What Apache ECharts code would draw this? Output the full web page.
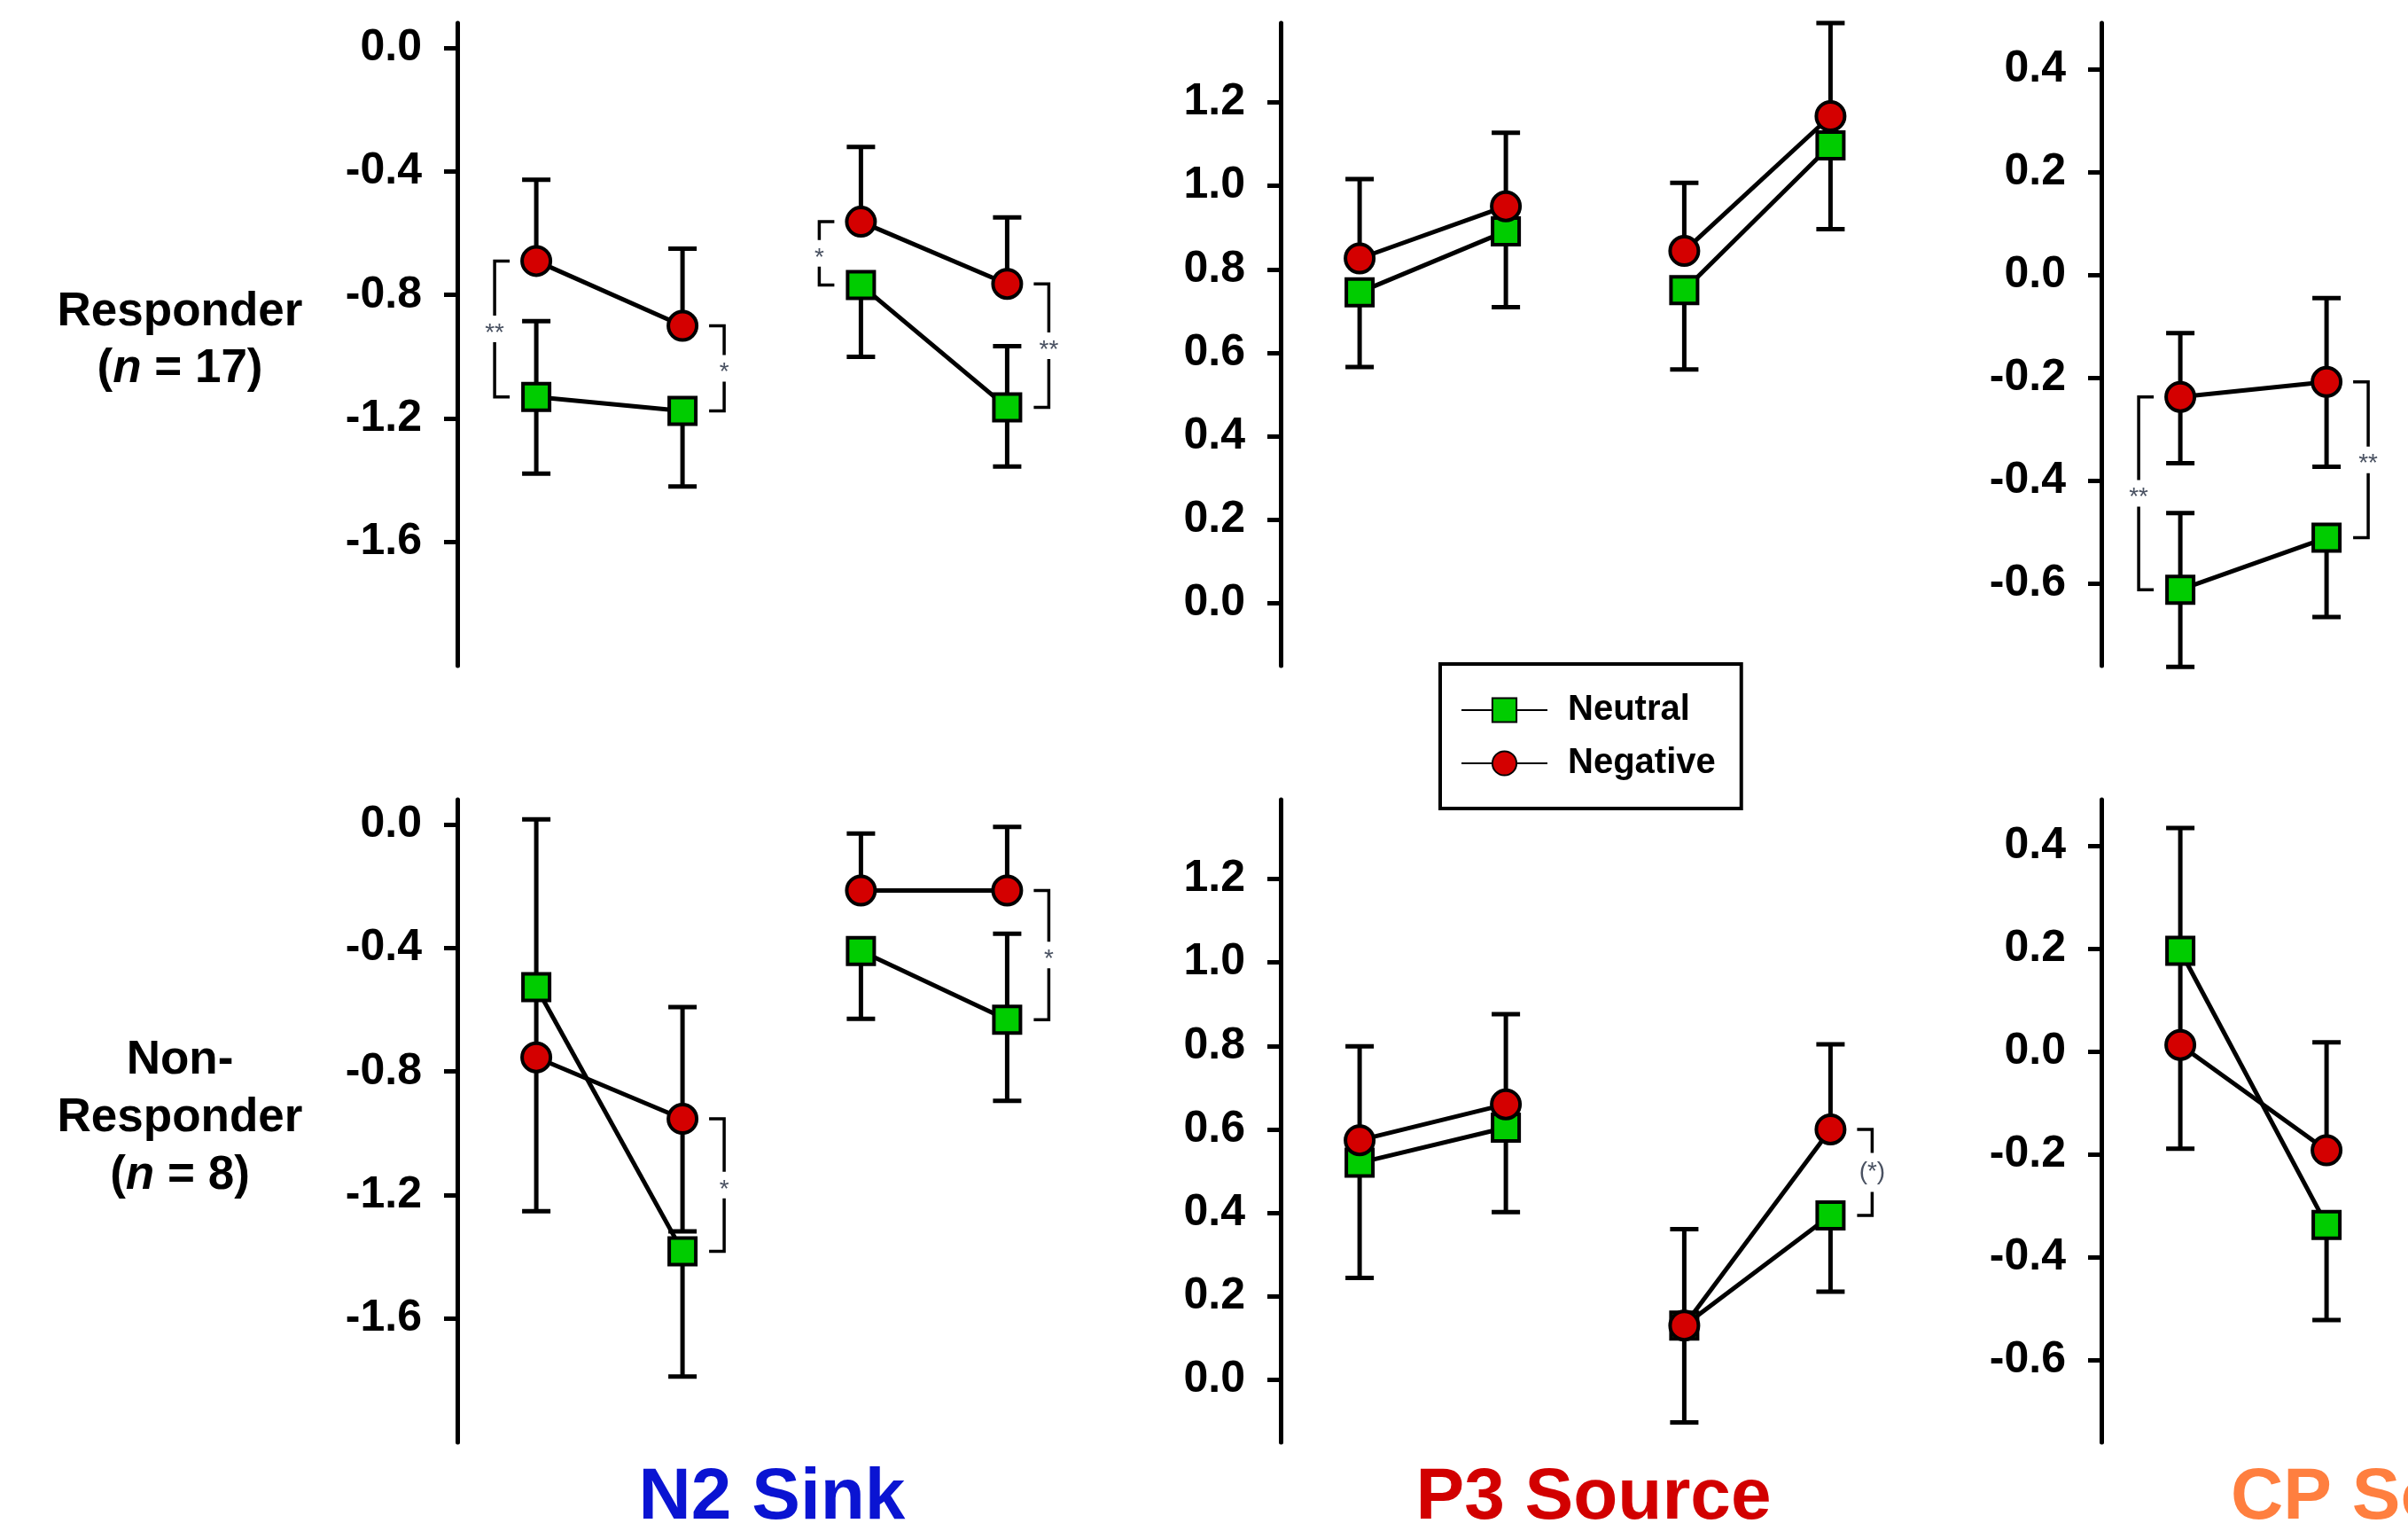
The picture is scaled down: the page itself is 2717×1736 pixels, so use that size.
<!DOCTYPE html>
<html>
<head>
<meta charset="utf-8">
<script src="https://cdn.jsdelivr.net/npm/echarts@6.0.0/dist/echarts.min.js"></script>
<style>
  html, body { margin: 0; padding: 0; background: #fff; }
  #chart { width: 2717px; height: 1736px; }
</style>
</head>
<body>
<div id="chart"></div>
<script>
// x position of the four conditions (two pairs) inside each panel
const xPos = [1, 2, 3.22, 4.22];

// each point: [mean, lower end of error bar, upper end of error bar]; null = that end not drawn
const n2RespNeutral  = [[-1.13, -1.378, -0.885], [-1.175, -1.42, null], [-0.768, -1.0, null], [-1.164, -1.355, -0.966]];
const n2RespNegative = [[-0.69, null, -0.427], [-0.90, null, -0.65], [-0.563, null, -0.321], [-0.764, null, -0.549]];
const n2NonNeutral   = [[-0.527, null, 0.016], [-1.382, -1.787, null], [-0.41, -0.629, null], [-0.632, -0.895, -0.354]];
const n2NonNegative  = [[-0.754, -1.252, -0.53], [-0.953, -1.317, -0.591], [-0.214, null, -0.03], [-0.214, null, -0.008]];

const p3RespNeutral  = [[0.745, 0.566, null], [0.891, 0.709, null], [0.75, 0.56, null], [1.097, 0.896, null]];
const p3RespNegative = [[0.826, null, 1.016], [0.951, null, 1.127], [0.844, null, 1.007], [1.167, null, 1.39]];
const p3NonNeutral   = [[0.52, 0.244, null], [0.604, 0.402, null], [0.13, -0.102, null], [0.394, 0.211, null]];
const p3NonNegative  = [[0.574, null, 0.799], [0.66, null, 0.876], [0.13, null, 0.361], [0.60, null, 0.804]];

const cpRespNeutral  = [[-0.612, -0.762, -0.463], [-0.511, -0.665, null]];
const cpRespNegative = [[-0.237, -0.366, -0.113], [-0.208, -0.373, -0.045]];
const cpNonNeutral   = [[0.196, null, 0.435], [-0.337, -0.522, null]];
const cpNonNegative  = [[0.013, -0.189, 0.196], [-0.192, null, 0.018]];

// significance brackets: [point index, side, label]
const n2RespStars = [[0, 'left', '**'], [1, 'right', '*'], [2, 'left', '*'], [3, 'right', '**']];
const n2NonStars  = [[1, 'right', '*'], [3, 'right', '*']];
const p3RespStars = [];
const p3NonStars  = [[3, 'right', '(*)']];
const cpRespStars = [[0, 'left', '**'], [1, 'right', '**']];
const cpNonStars  = [];

// tick labels
const n2Ticks = [0, -0.4, -0.8, -1.2, -1.6];
const p3Ticks = [0, 0.2, 0.4, 0.6, 0.8, 1.0, 1.2];
const cpTicks = [-0.6, -0.4, -0.2, 0, 0.2, 0.4];

const rowLabels = ['Responder\n({i|n} = 17)', 'Non-\nResponder\n({i|n} = 8)'];
const panelTitles = ['N2 Sink', 'P3 Source', 'CP Source'];

const FONT = "'Liberation Sans', Arial, sans-serif";
const NEU_COLOR = '#00cc00';
const NEG_COLOR = '#d40000';

const panels = [
  { left: 516,  top: 26,  min: -2.0,  max: 0.08, ticks: n2Ticks, neu: n2RespNeutral, neg: n2RespNegative, stars: n2RespStars },
  { left: 1445, top: 26,  min: -0.15, max: 1.39, ticks: p3Ticks, neu: p3RespNeutral, neg: p3RespNegative, stars: p3RespStars },
  { left: 2371, top: 26,  min: -0.76, max: 0.49, ticks: cpTicks, neu: cpRespNeutral, neg: cpRespNegative, stars: cpRespStars },
  { left: 516,  top: 902, min: -2.0,  max: 0.08, ticks: n2Ticks, neu: n2NonNeutral,  neg: n2NonNegative,  stars: n2NonStars },
  { left: 1445, top: 902, min: -0.15, max: 1.39, ticks: p3Ticks, neu: p3NonNeutral,  neg: p3NonNegative,  stars: p3NonStars },
  { left: 2371, top: 902, min: -0.76, max: 0.49, ticks: cpTicks, neu: cpNonNeutral,  neg: cpNonNegative,  stars: cpNonStars }
];

const X_MIN = 0.46, X_MAX = 4.6, X_UNIT = 165;
const LW = 5;

const grids = [], xAxes = [], yAxes = [], series = [];

function errorBarRender(arr) {
  return function (params, api) {
    const d = arr[params.dataIndex];
    const x = xPos[params.dataIndex];
    const p0 = api.coord([x, d[0]]);
    const children = [];
    [d[1], d[2]].forEach(v => {
      if (v === null || v === undefined) return;
      const p1 = api.coord([x, v]);
      children.push({ type: 'line', shape: { x1: p0[0], y1: p0[1], x2: p1[0], y2: p1[1] },
        style: { stroke: '#000', lineWidth: LW } });
      children.push({ type: 'line', shape: { x1: p1[0] - 16, y1: p1[1], x2: p1[0] + 16, y2: p1[1] },
        style: { stroke: '#000', lineWidth: LW } });
    });
    return { type: 'group', children };
  };
}

function bracketRender(p) {
  return function (params, api) {
    const [idx, side, label] = p.stars[params.dataIndex];
    const a = api.coord([xPos[idx], p.neg[idx][0]]);
    const b = api.coord([xPos[idx], p.neu[idx][0]]);
    const dir = side === 'left' ? -1 : 1;
    const bx = a[0] + dir * 47;
    const tx = bx - dir * 17;
    const y1 = Math.min(a[1], b[1]), y2 = Math.max(a[1], b[1]);
    const mid = (y1 + y2) / 2;
    const gap = label.length > 2 ? 22 : 15;
    const st = { stroke: '#000', lineWidth: 3.5, fill: null };
    return {
      type: 'group',
      children: [
        { type: 'polyline', shape: { points: [[tx, y1], [bx, y1], [bx, mid - gap]] }, style: st },
        { type: 'polyline', shape: { points: [[bx, mid + gap], [bx, y2], [tx, y2]] }, style: st },
        { type: 'text', x: bx, y: label.length > 2 ? mid : mid + 5,
          style: { text: label, fill: '#4a5262', font: '28px ' + FONT,
            align: 'center', verticalAlign: 'middle', textAlign: 'center', textVerticalAlign: 'middle' } }
      ]
    };
  };
}

panels.forEach((p, i) => {
  grids.push({ left: p.left, top: p.top, width: (X_MAX - X_MIN) * X_UNIT, height: 725,
    containLabel: false, outerBoundsMode: 'none' });
  xAxes.push({ type: 'value', gridIndex: i, min: X_MIN, max: X_MAX, show: false });
  yAxes.push({
    type: 'value', gridIndex: i, min: p.min, max: p.max,
    axisLine: { show: true, onZero: false, lineStyle: { color: '#000', width: LW } },
    axisTick: { show: true, length: 15, customValues: p.ticks, lineStyle: { color: '#000', width: LW } },
    axisLabel: { customValues: p.ticks, formatter: v => Number(v).toFixed(1), margin: 40,
      fontSize: 50, fontWeight: 'bold', color: '#000', fontFamily: FONT },
    splitLine: { show: false }
  });

  [p.neu, p.neg].forEach(arr => {
    series.push({
      type: 'custom', xAxisIndex: i, yAxisIndex: i, z: 1, silent: true,
      data: arr.map((d, j) => [xPos[j], d[0]]),
      renderItem: errorBarRender(arr)
    });
  });

  const pairs = [[0, 1], [2, 3]];
  [['Neutral', p.neu, 'rect', 30, NEU_COLOR], ['Negative', p.neg, 'circle', 32, NEG_COLOR]].forEach(s => {
    pairs.forEach(pr => {
      if (s[1][pr[1]] === undefined) return;
      series.push({
        type: 'line', name: s[0], xAxisIndex: i, yAxisIndex: i, z: 2, silent: true,
        data: pr.map(j => [xPos[j], s[1][j][0]]),
        symbol: s[2], symbolSize: s[3], showSymbol: true,
        lineStyle: { color: '#000', width: LW },
        itemStyle: { color: s[4], borderColor: '#000', borderWidth: 4 }
      });
    });
  });

  if (p.stars.length) {
    series.push({
      type: 'custom', xAxisIndex: i, yAxisIndex: i, z: 3, silent: true,
      data: p.stars.map(s => [xPos[s[0]], p.neg[s[0]][0]]),
      renderItem: bracketRender(p)
    });
  }
});

const labelStyle = (text, y, lh) => ({
  type: 'text', x: 203, y: y,
  style: {
    text: text, fill: '#000', fontSize: 53, fontWeight: 'bold', fontFamily: FONT,
    lineHeight: lh, align: 'center', verticalAlign: 'middle',
    rich: { i: { fontStyle: 'italic', fontWeight: 'bold', fontSize: 53, fontFamily: FONT, lineHeight: lh } }
  }
});

const titleColors = ['#0a14d2', '#d20000', '#ff7f3f'];
const titleX = [871, 1798, 2517];
const titleAlign = ['center', 'center', 'left'];

const graphics = [labelStyle(rowLabels[0], 384, 64), labelStyle(rowLabels[1], 1261, 65)];
panelTitles.forEach((t, k) => {
  graphics.push({
    type: 'text', x: titleX[k], y: 1690,
    style: { text: t, fill: titleColors[k], fontSize: 82, fontWeight: 'bold', fontFamily: FONT,
      align: titleAlign[k], verticalAlign: 'middle' }
  });
});

const chart = echarts.init(document.getElementById('chart'), null, { renderer: 'canvas' });
chart.setOption({
  animation: false,
  backgroundColor: '#fff',
  grid: grids,
  xAxis: xAxes,
  yAxis: yAxes,
  legend: {
    data: ['Neutral', 'Negative'], orient: 'vertical', left: 1625, top: 749,
    itemWidth: 97, itemHeight: 34, itemGap: 20, padding: [32, 29, 31, 23],
    borderColor: '#000', borderWidth: 4, backgroundColor: '#fff', selectedMode: false,
    textStyle: { fontSize: 40, fontWeight: 'bold', color: '#000', fontFamily: FONT, padding: [0, 0, 0, 18] }
  },
  graphic: graphics,
  series: series
});
</script>
</body>
</html>
